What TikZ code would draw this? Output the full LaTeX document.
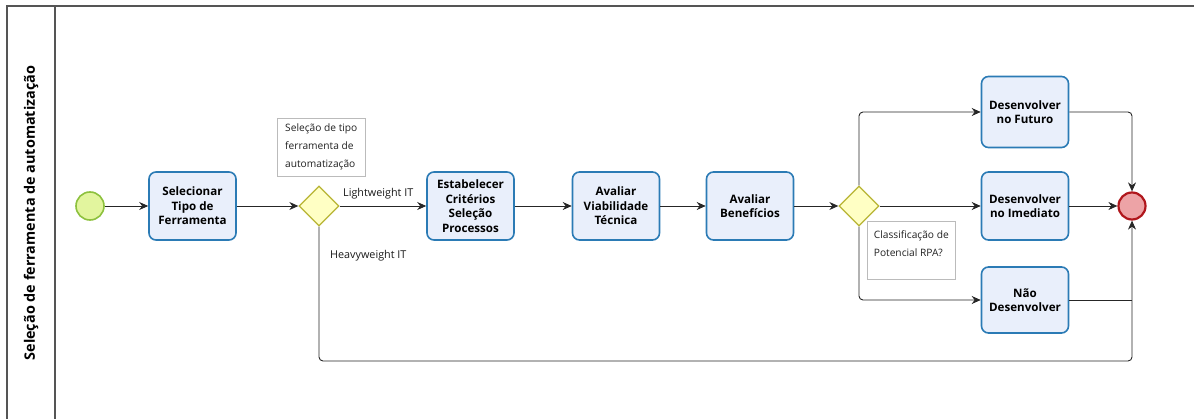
\documentclass[tikz,border=0pt]{standalone}
\usepackage{fontspec}
\setmainfont{Open Sans}
\usetikzlibrary{arrows.meta,shapes.geometric}
\definecolor{taskfill}{HTML}{E9EFFB}
\definecolor{taskline}{HTML}{2B7BB5}
\definecolor{gwfill}{HTML}{FFFFC4}
\definecolor{gwline}{HTML}{B8B434}
\definecolor{stfill}{HTML}{E2F59E}
\definecolor{stline}{HTML}{8DC13E}
\definecolor{endfill}{HTML}{EDA3A6}
\definecolor{endline}{HTML}{B0161C}
\definecolor{framec}{HTML}{555555}
\definecolor{annline}{HTML}{BBBBBB}
\definecolor{anntext}{HTML}{222222}
\tikzset{
  taskbox/.style={draw=taskline,fill=taskfill,line width=1.6pt,rounded corners=7pt,
    minimum width=87pt,minimum height=67pt,align=center,inner sep=2pt,
    font=\fontsize{11.6}{14.5}\selectfont\bfseries},
  gw/.style={draw=gwline,fill=gwfill,line width=1.3pt,diamond,minimum width=40pt,minimum height=40pt,inner sep=0pt},
  startev/.style={circle,draw=stline,fill=stfill,line width=1.6pt,minimum size=28pt,inner sep=0pt},
  endev/.style={circle,draw=endline,fill=endfill,line width=2.2pt,minimum size=27pt,inner sep=0pt},
  annot/.style={draw=annline,fill=white,line width=0.6pt,align=left,anchor=north west,
    text=anntext,font=\fontsize{10.2}{18}\selectfont,inner sep=3pt},
  flow/.style={draw=black!85,line width=0.9pt,-{Stealth[length=9pt,width=8pt]},rounded corners=4pt},
  flowline/.style={draw=black!85,line width=0.9pt,rounded corners=4pt},
  lbl/.style={font=\fontsize{10.8}{12}\selectfont,text=black!90,inner sep=0pt}
}
\begin{document}
\begin{tikzpicture}[x=1pt,y=-1pt]
\useasboundingbox (0,0) rectangle (1194,419);
% pool frame
\draw[framec,line width=1.4pt] (7,419) -- (7,6) -- (1194,6);
\draw[framec,line width=1.4pt] (55,6) -- (55,419);
\node[rotate=90,font=\fontsize{14.4}{16}\selectfont\bfseries] (lane) at (31,213) {Seleção de ferramenta de automatização};
% nodes
\node[startev] (start) at (90,206) {};
\node[taskbox,minimum height=68pt] (t1) at (192.5,206) {Selecionar\\Tipo de\\Ferramenta};
\node[gw] (g1) at (319,206) {};
\node[annot,minimum width=88pt,minimum height=58pt] (a1) at (277,118) {Seleção de tipo\\ferramenta de\\automatização};
\node[taskbox,minimum height=68pt] (t2) at (470.5,206) {Estabelecer\\Critérios\\Seleção\\Processos};
\node[taskbox,minimum height=68pt] (t3) at (616,206) {Avaliar\\Viabilidade\\Técnica};
\node[taskbox,minimum height=68pt] (t4) at (750,206) {Avaliar\\Benefícios};
\node[gw] (g2) at (859,206) {};
\node[annot,minimum width=88pt,minimum height=58pt,anchor=north west] (a2) at (867,221) {Classificação de\\Potencial RPA?\\[-4pt]\phantom{x}};
\node[taskbox,minimum height=71pt] (t5) at (1025,112) {Desenvolver\\no Futuro};
\node[taskbox,minimum height=68pt] (t6) at (1025,206) {Desenvolver\\no Imediato};
\node[taskbox,minimum height=66pt] (t7) at (1025,300) {Não\\Desenvolver};
\node[endev] (end) at (1132,206) {};
\coordinate (bl) at (319,361);
\coordinate (br) at (1132,361);
% flows
\draw[flow] (start) -- (t1);
\draw[flow] (t1) -- (g1.west);
\draw[flow] (g1.east) -- (t2.west);
\draw[flow] (t2) -- (t3);
\draw[flow] (t3) -- (t4);
\draw[flow] (t4) -- (g2.west);
\draw[flow] (g2.north) |- (t5.west);
\draw[flow] (g2.east) -- (t6.west);
\draw[flow] (g2.south) |- (t7.west);
\draw[flow] (t5.east) -| (end.north);
\draw[flow] (t6.east) -- (end.west);
\draw[flowline] (t7.east) -- (br |- t7.east);
\draw[flow] (g1.south) -- (bl) -- (br) -- (end.south);
% labels
\node[lbl,anchor=west] (lw) at (343,194) {Lightweight IT};
\node[lbl,anchor=west] (hw) at (330,256) {Heavyweight IT};
\end{tikzpicture}
\end{document}
